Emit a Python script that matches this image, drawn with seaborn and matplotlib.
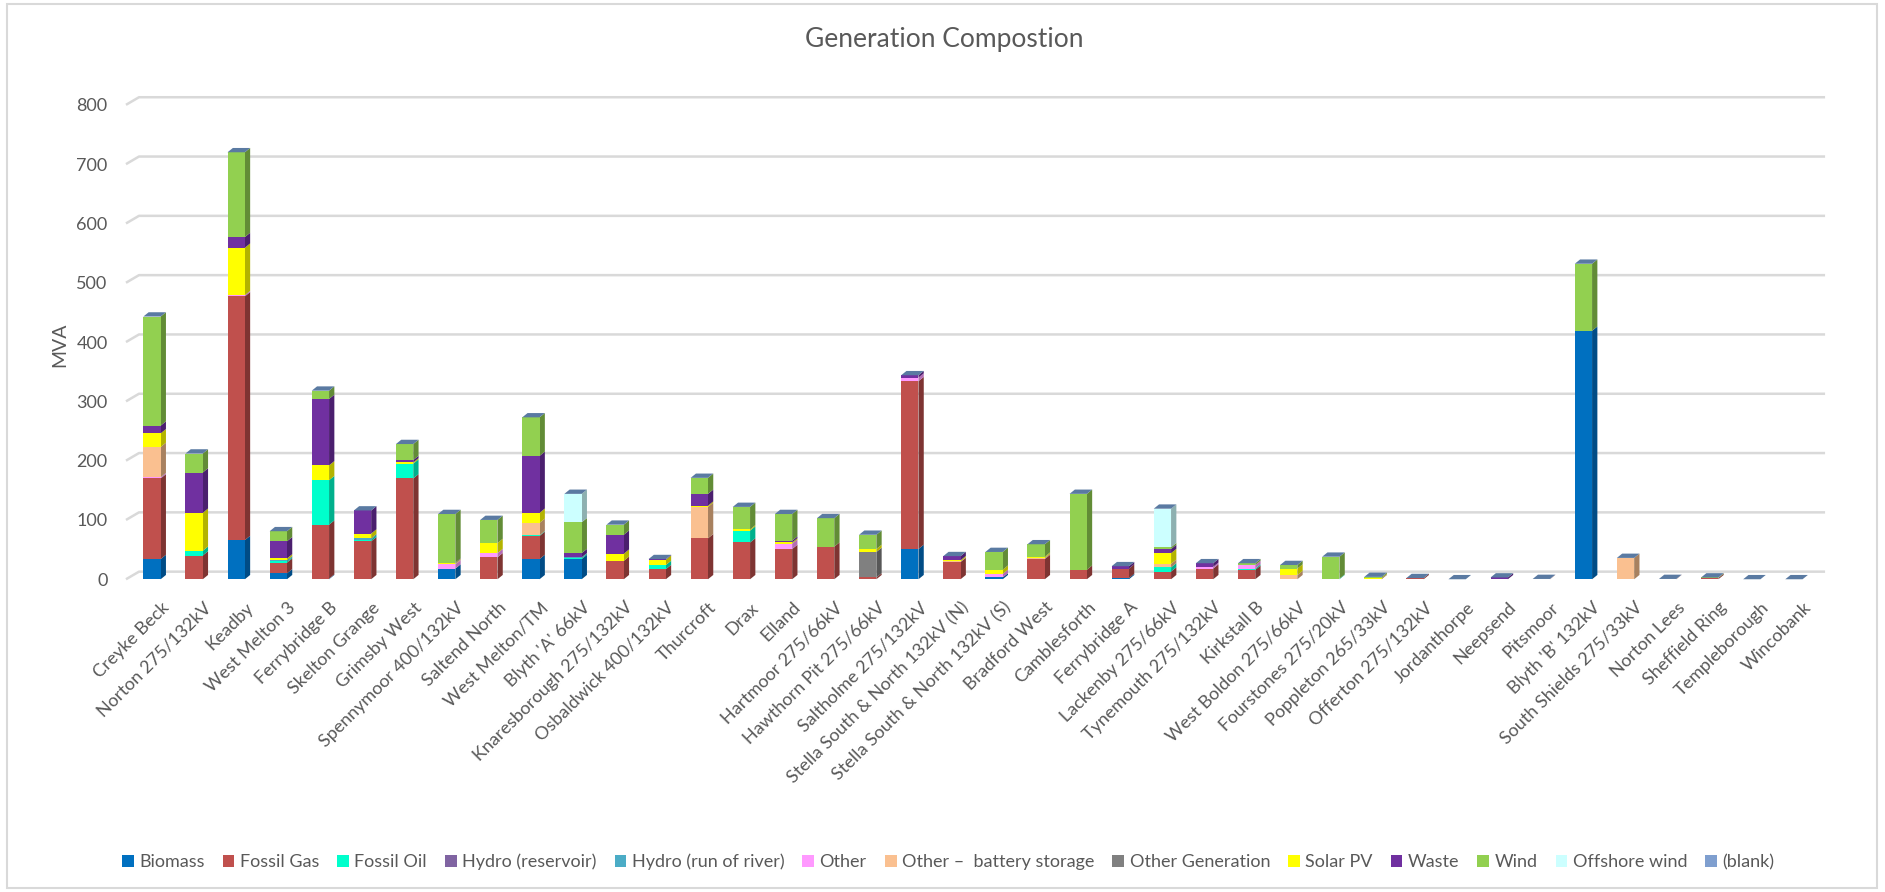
import numpy as np
import pandas as pd
import matplotlib
matplotlib.use("Agg")
import matplotlib.pyplot as plt
from matplotlib.patches import Patch, Rectangle
from matplotlib.transforms import ScaledTranslation
import seaborn as sns

# ---- data -------------------------------------------------------------
substations = [
    "Creyke Beck", "Norton 275/132kV", "Keadby", "West Melton 3", "Ferrybridge B",
    "Skelton Grange", "Grimsby West", "Spennymoor 400/132kV", "Saltend North",
    "West Melton/TM", "Blyth 'A' 66kV", "Knaresborough 275/132kV",
    "Osbaldwick 400/132kV", "Thurcroft", "Drax", "Elland", "Hartmoor 275/66kV",
    "Hawthorn Pit 275/66kV", "Saltholme 275/132kV", "Stella South & North 132kV (N)",
    "Stella South & North 132kV (S)", "Bradford West", "Camblesforth", "Ferrybridge A",
    "Lackenby 275/66kV", "Tynemouth 275/132kV", "Kirkstall B", "West Boldon 275/66kV",
    "Fourstones 275/20kV", "Poppleton 265/33kV", "Offerton 275/132kV", "Jordanthorpe",
    "Neepsend", "Pitsmoor", "Blyth 'B' 132kV", "South Shields 275/33kV", "Norton Lees",
    "Sheffield Ring", "Templeborough", "Wincobank",
]

biomass = [34, 0, 66, 10, 1, 0, 0, 18, 0, 34,
           34, 0, 0, 0, 0, 0, 0, 0, 51, 0,
           3, 0, 0, 2, 0, 0, 0, 0, 0, 0,
           0, 0, 0, 0, 419, 0, 0, 0, 0, 0]
fossil_gas = [136, 40, 411, 18, 91, 64, 170, 0, 37, 39,
              0, 31, 17, 69, 62, 51, 55, 3, 283, 29,
              0, 34, 16, 16, 13, 18, 16, 0, 0, 1,
              2, 0, 0, 0.5, 0, 0, 0.5, 2, 0, 0]
fossil_oil = [0, 8, 0, 2, 75, 3, 25, 0, 0, 1,
              2, 0, 7, 0, 20, 0, 0, 0, 0, 0,
              0, 0, 0, 0, 7, 0, 2, 0, 1, 0,
              0, 0, 0, 0, 0, 0, 0, 0, 0, 0]
hydro_reservoir = [0, 0, 0, 0, 0, 0, 0, 0, 0, 0,
                   0, 0, 0, 0, 0, 0, 0, 0, 0, 0,
                   0, 0, 0, 0, 0, 0, 0, 0, 0, 0,
                   0, 0, 0, 0, 0, 0, 0, 0, 0, 0]
hydro_run_of_river = [0, 0, 0, 2, 0, 2, 0, 0, 0, 0,
                      1, 0, 0, 0, 0, 0, 0, 0, 0, 0,
                      0, 0, 0, 0, 0, 0, 0, 0, 0, 0,
                      0, 0, 0, 0, 0, 0, 0, 0, 0, 0]
other = [2, 0, 2, 0, 0, 0, 0, 7, 7, 0,
         0, 0, 0, 0, 0, 9, 0, 0, 6, 0,
         6, 0, 0, 0, 0, 3, 6, 0, 0, 0,
         0, 0, 0, 0, 0, 0, 0, 0, 0, 0]
battery_storage = [51, 0, 0, 0, 0, 0, 0, 1, 0, 21,
                   0, 0, 0, 53, 0, 0, 0, 0, 0, 1,
                   0, 2, 0, 0, 6, 0, 0, 7, 0, 0,
                   0, 0, 0, 0, 0, 36, 0, 0, 0, 0]
other_generation = [0, 0, 0, 0, 0, 0, 0, 0, 0, 0,
                    0, 0, 0, 0, 0, 0, 0, 43, 0, 0,
                    0, 0, 0, 0, 0, 0, 0, 0, 0, 0,
                    0, 0, 0, 0, 0, 0, 0, 0, 0, 0]
solar_pv = [23, 64, 80, 3, 25, 8, 2, 1, 17, 17,
            0, 12, 9, 2, 2, 2, 0, 5, 0, 2,
            7, 2, 0, 0, 18, 0, 0, 11, 0, 1,
            0, 0, 0, 0, 0, 0, 0, 0, 0, 0]
waste = [13, 68, 18, 29, 112, 39, 4, 1, 0, 96,
         7, 32, 1, 20, 0, 3, 0, 0, 4, 7,
         0, 0, 0, 4, 7, 6, 0, 0, 0, 0,
         0, 0, 3, 0, 0, 0, 0, 0, 0, 0]
wind = [184, 32, 143, 17, 14, 0, 27, 82, 39, 65,
        52, 17, 0, 27, 38, 45, 48, 24, 0, 0,
        30, 21, 128, 0, 3, 0, 3, 6, 37, 2,
        0, 0, 0, 0, 113, 0, 0, 1, 0, 0]
offshore_wind = [0, 0, 0, 0, 0, 0, 0, 0, 0, 0,
                 48, 0, 0, 0, 0, 0, 0, 0, 0, 0,
                 0, 0, 0, 0, 65, 0, 0, 0, 0, 0,
                 0, 0, 0, 0, 0, 0, 0, 0, 0, 0]
blank = [0, 0, 0, 0, 0, 0, 0, 0, 0, 0,
         0, 0, 0, 0, 0, 0, 0, 0, 0, 0,
         0, 0, 0, 0, 0, 0, 0, 0, 0, 0,
         0, 0, 0, 0, 0, 0, 0, 0, 0, 0]

series_names = ["Biomass", "Fossil Gas", "Fossil Oil", "Hydro (reservoir)",
                "Hydro (run of river)", "Other", "Other \u2013  battery storage",
                "Other Generation", "Solar PV", "Waste", "Wind", "Offshore wind",
                "(blank)"]
series_values = [biomass, fossil_gas, fossil_oil, hydro_reservoir, hydro_run_of_river,
                 other, battery_storage, other_generation, solar_pv, waste, wind,
                 offshore_wind, blank]

# ---- styling ----------------------------------------------------------
front_colors = ["#0070C0", "#C0504D", "#00FFCC", "#8064A2", "#4BACC6", "#FF99FF",
                "#FAC090", "#808080", "#FFFF00", "#7030A0", "#92D050", "#CCFFFF",
                "#7F9FCF"]
side_colors = ["#004C86", "#7E3432", "#00B08C", "#574570", "#327A8C", "#B56CB5",
               "#A8815F", "#575757", "#B3B300", "#4B1F6E", "#628C36", "#8DB0B0",
               "#56769E"]
top_color = "#5A7AA2"
grid_color = "#D9D9D9"
text_color = "#595959"

sns.set_theme(style="white")
plt.rcParams["font.family"] = ["Lato", "DejaVu Sans"]

W, H = 1885, 892
fig = plt.figure(figsize=(W / 100, H / 100), dpi=100)
fig.patch.set_facecolor("white")
ax = fig.add_axes([120 / W, 1 - 584 / H, 1710 / W, 494 / H])
ax.set_facecolor("white")

n = len(substations)
vals = np.array(series_values, dtype=float)
cum = vals.cumsum(axis=0)
bottoms = cum - vals
totals = cum[-1]
xs = np.arange(n)

BAR_W = 0.411          # front face width (category units)
DX, DY = 0.126, 7.25   # depth of each column
FLOOR = 12.8           # depth of the floor: back wall sits behind the columns

# back-wall gridlines with the diagonal floor edge on the left
for v in range(0, 801, 100):
    ax.plot([-0.618, -0.309, 39.74], [v, v + FLOOR, v + FLOOR],
            color=grid_color, lw=1.8, zorder=0, solid_capstyle="butt")

# front faces: cumulative totals drawn from the top series down
df = pd.DataFrame({"substation": substations})
for k in reversed(range(len(series_names))):
    df["cum"] = cum[k]
    sns.barplot(data=df, x="substation", y="cum", order=substations,
                color=front_colors[k], saturation=1, width=BAR_W,
                errorbar=None, linewidth=0, zorder=3, ax=ax)

# side faces of each stacked segment
for k in range(len(series_names)):
    for i in range(n):
        if vals[k, i] <= 0:
            continue
        b, t = bottoms[k, i], cum[k, i]
        xr = xs[i] + BAR_W / 2
        ax.fill([xr, xr + DX, xr + DX, xr], [b, b + DY, t + DY, t],
                color=side_colors[k], lw=0, zorder=2)

# top faces
for i in range(n):
    xl, xr, t = xs[i] - BAR_W / 2, xs[i] + BAR_W / 2, totals[i]
    ax.fill([xl, xr, xr + DX, xl + DX], [t, t, t + DY, t + DY],
            color=top_color, lw=0, zorder=4)

ax.set_xlim(-0.76, 39.857)
ax.set_ylim(-8, 825)
ax.set_yticks(range(0, 801, 100))
ax.set_yticklabels([str(v) for v in range(0, 801, 100)], fontsize=13, color=text_color)
ax.set_xticks(xs)
ax.set_xticklabels(substations, rotation=45, ha="right", rotation_mode="anchor",
                   fontsize=13, color=text_color)
ax.tick_params(axis="x", length=0, pad=11)
ax.tick_params(axis="y", length=0, pad=9)
shift = ScaledTranslation(9 / 100, 0, fig.dpi_scale_trans)
for lab in ax.get_xticklabels():
    lab.set_transform(lab.get_transform() + shift)
ax.set_xlabel("")
ax.set_ylabel("MVA", fontsize=14, color=text_color, labelpad=0)
ax.yaxis.set_label_coords(-0.0305, 0.484)
for s in ax.spines.values():
    s.set_visible(False)
ax.grid(False)

fig.text(944 / W, 1 - 39 / H, "Generation Compostion", ha="center", va="center",
         fontsize=19, color=text_color)

handles = [Patch(facecolor=c, edgecolor="none") for c in front_colors]
fig.legend(handles, series_names, loc="center", bbox_to_anchor=(0.503, 1 - 862 / H),
           ncol=len(series_names), frameon=False, fontsize=13,
           handlelength=0.65, handleheight=0.65, handletextpad=0.3,
           columnspacing=1.0, labelcolor=text_color)

fig.patches.append(Rectangle((7 / W, 4 / H), 1870 / W, 884 / H, transform=fig.transFigure,
                             fill=False, edgecolor=grid_color, lw=1.5))

fig.savefig("out.png", dpi=100, facecolor="white")
